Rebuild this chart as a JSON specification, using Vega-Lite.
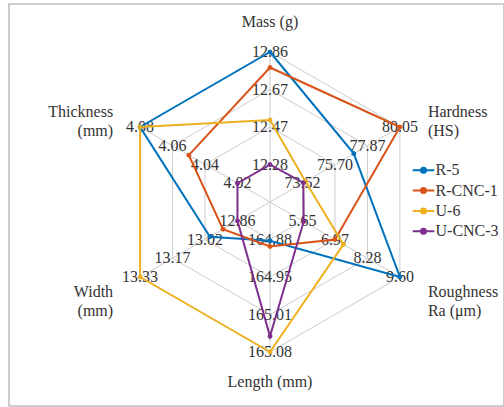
{
  "$schema": "https://vega.github.io/schema/vega-lite/v6.json",
  "width": 495,
  "height": 402,
  "autosize": {"type": "none"},
  "padding": {"left": 9, "top": 4, "right": 0, "bottom": 1},
  "background": "white",
  "config": {
    "view": {"stroke": "#c0c0c0", "strokeWidth": 1.6},
    "font": "Liberation Serif, Times New Roman, DejaVu Serif, serif",
    "text": {"font": "Liberation Serif, Times New Roman, DejaVu Serif, serif", "fontSize": 16, "color": "#333333"},
    "legend": {"labelFont": "Liberation Serif, Times New Roman, DejaVu Serif, serif"}
  },
  "datasets": {
    "axes": [
      {"axis": "Mass", "title": "Mass (g)", "idx": 0, "lo": 12.087, "hi": 12.86},
      {"axis": "Hardness", "title": "Hardness\n(HS)", "idx": 1, "lo": 71.343, "hi": 80.05},
      {"axis": "Roughness", "title": "Roughness\nRa (μm)", "idx": 2, "lo": 4.333, "hi": 9.6},
      {"axis": "Length", "title": "Length (mm)", "idx": 3, "lo": 164.813, "hi": 165.08},
      {"axis": "Width", "title": "Width\n(mm)", "idx": 4, "lo": 12.703, "hi": 13.33},
      {"axis": "Thickness", "title": "Thickness\n(mm)", "idx": 5, "lo": 4.0, "hi": 4.08}
    ],
    "ticks": [
      {"axis": "Mass", "tick": 12.28}, {"axis": "Mass", "tick": 12.47}, {"axis": "Mass", "tick": 12.67}, {"axis": "Mass", "tick": 12.86},
      {"axis": "Hardness", "tick": 73.52}, {"axis": "Hardness", "tick": 75.70}, {"axis": "Hardness", "tick": 77.87}, {"axis": "Hardness", "tick": 80.05},
      {"axis": "Roughness", "tick": 5.65}, {"axis": "Roughness", "tick": 6.97}, {"axis": "Roughness", "tick": 8.28}, {"axis": "Roughness", "tick": 9.60},
      {"axis": "Length", "tick": 164.88}, {"axis": "Length", "tick": 164.95}, {"axis": "Length", "tick": 165.01}, {"axis": "Length", "tick": 165.08},
      {"axis": "Width", "tick": 12.86}, {"axis": "Width", "tick": 13.02}, {"axis": "Width", "tick": 13.17}, {"axis": "Width", "tick": 13.33},
      {"axis": "Thickness", "tick": 4.02}, {"axis": "Thickness", "tick": 4.04}, {"axis": "Thickness", "tick": 4.06}, {"axis": "Thickness", "tick": 4.08}
    ],
    "series": [
      {"series": "R-5", "axis": "Mass", "value": 12.86},
      {"series": "R-5", "axis": "Hardness", "value": 76.96},
      {"series": "R-5", "axis": "Roughness", "value": 9.60},
      {"series": "R-5", "axis": "Length", "value": 164.882},
      {"series": "R-5", "axis": "Width", "value": 12.993},
      {"series": "R-5", "axis": "Thickness", "value": 4.08},
      {"series": "R-CNC-1", "axis": "Mass", "value": 12.78},
      {"series": "R-CNC-1", "axis": "Hardness", "value": 80.05},
      {"series": "R-CNC-1", "axis": "Roughness", "value": 6.97},
      {"series": "R-CNC-1", "axis": "Length", "value": 164.892},
      {"series": "R-CNC-1", "axis": "Width", "value": 12.93},
      {"series": "R-CNC-1", "axis": "Thickness", "value": 4.05},
      {"series": "U-6", "axis": "Mass", "value": 12.51},
      {"series": "U-6", "axis": "Hardness", "value": 73.72},
      {"series": "U-6", "axis": "Roughness", "value": 7.31},
      {"series": "U-6", "axis": "Length", "value": 165.08},
      {"series": "U-6", "axis": "Width", "value": 13.33},
      {"series": "U-6", "axis": "Thickness", "value": 4.08},
      {"series": "U-CNC-3", "axis": "Mass", "value": 12.28},
      {"series": "U-CNC-3", "axis": "Hardness", "value": 73.58},
      {"series": "U-CNC-3", "axis": "Roughness", "value": 5.70},
      {"series": "U-CNC-3", "axis": "Length", "value": 165.052},
      {"series": "U-CNC-3", "axis": "Width", "value": 12.86},
      {"series": "U-CNC-3", "axis": "Thickness", "value": 4.02}
    ]
  },
  "layer": [
    {
      "data": {"name": "axes"},
      "transform": [
        {"calculate": "PI/2 - datum.idx*PI/3", "as": "a"},
        {"calculate": "0", "as": "zx"},
        {"calculate": "0", "as": "zy"},
        {"calculate": "cos(datum.a)", "as": "cx"},
        {"calculate": "sin(datum.a)", "as": "cy"}
      ],
      "mark": {"type": "rule", "color": "#cccccc", "strokeWidth": 1},
      "encoding": {
        "x": {"field": "zx", "type": "quantitative", "scale": {"domain": [-1.74, 1.56], "nice": false, "zero": false}, "axis": null},
        "y": {"field": "zy", "type": "quantitative", "scale": {"domain": [-1.36, 1.32], "nice": false, "zero": false}, "axis": null},
        "x2": {"field": "cx"},
        "y2": {"field": "cy"}
      }
    },
    {
      "data": {"name": "ticks"},
      "transform": [
        {"lookup": "axis", "from": {"data": {"name": "axes"}, "key": "axis", "fields": ["idx", "lo", "hi"]}},
        {"calculate": "round(4*(datum.tick-datum.lo)/(datum.hi-datum.lo))/4", "as": "rr"},
        {"calculate": "PI/2 - datum.idx*PI/3", "as": "a"},
        {"calculate": "datum.rr*cos(datum.a)", "as": "gx"},
        {"calculate": "datum.rr*sin(datum.a)", "as": "gy"},
        {"calculate": "datum.rr*cos(datum.a - PI/3)", "as": "gx2"},
        {"calculate": "datum.rr*sin(datum.a - PI/3)", "as": "gy2"}
      ],
      "mark": {"type": "rule", "color": "#cccccc", "strokeWidth": 1},
      "encoding": {
        "x": {"field": "gx", "type": "quantitative", "scale": {"domain": [-1.74, 1.56], "nice": false, "zero": false}, "axis": null},
        "y": {"field": "gy", "type": "quantitative", "scale": {"domain": [-1.36, 1.32], "nice": false, "zero": false}, "axis": null},
        "x2": {"field": "gx2"},
        "y2": {"field": "gy2"}
      }
    },
    {
      "data": {"name": "ticks"},
      "transform": [
        {"lookup": "axis", "from": {"data": {"name": "axes"}, "key": "axis", "fields": ["idx", "lo", "hi"]}},
        {"calculate": "round(4*(datum.tick-datum.lo)/(datum.hi-datum.lo))/4", "as": "rr"},
        {"calculate": "PI/2 - datum.idx*PI/3", "as": "a"},
        {"calculate": "datum.rr*cos(datum.a)", "as": "gx"},
        {"calculate": "datum.rr*sin(datum.a)", "as": "gy"}
      ],
      "mark": {"type": "text", "align": "center", "baseline": "middle", "font": "Liberation Serif, Times New Roman, DejaVu Serif, serif", "fontSize": 16, "color": "#333333"},
      "encoding": {
        "x": {"field": "gx", "type": "quantitative", "scale": {"domain": [-1.74, 1.56], "nice": false, "zero": false}, "axis": null},
        "y": {"field": "gy", "type": "quantitative", "scale": {"domain": [-1.36, 1.32], "nice": false, "zero": false}, "axis": null},
        "text": {"field": "tick", "type": "quantitative", "format": ".2f"}
      }
    },
    {
      "data": {"name": "axes"},
      "transform": [
        {"calculate": "PI/2 - datum.idx*PI/3", "as": "a"},
        {"filter": "abs(cos(datum.a)) < 0.1"},
        {"calculate": "1.2*cos(datum.a)", "as": "tx"},
        {"calculate": "1.2*sin(datum.a)", "as": "ty"}
      ],
      "mark": {"type": "text", "align": "center", "baseline": "middle", "lineBreak": "\n", "lineHeight": 19, "font": "Liberation Serif, Times New Roman, DejaVu Serif, serif", "fontSize": 16, "color": "#333333"},
      "encoding": {
        "x": {"field": "tx", "type": "quantitative", "scale": {"domain": [-1.74, 1.56], "nice": false, "zero": false}, "axis": null},
        "y": {"field": "ty", "type": "quantitative", "scale": {"domain": [-1.36, 1.32], "nice": false, "zero": false}, "axis": null},
        "text": {"field": "title", "type": "nominal"}
      }
    },
    {
      "data": {"name": "axes"},
      "transform": [
        {"calculate": "PI/2 - datum.idx*PI/3", "as": "a"},
        {"filter": "cos(datum.a) > 0.1"},
        {"calculate": "1.2*cos(datum.a)", "as": "tx"},
        {"calculate": "1.2*sin(datum.a)", "as": "ty"}
      ],
      "mark": {"type": "text", "align": "left", "baseline": "middle", "dx": 2, "lineBreak": "\n", "lineHeight": 19, "font": "Liberation Serif, Times New Roman, DejaVu Serif, serif", "fontSize": 16, "color": "#333333"},
      "encoding": {
        "x": {"field": "tx", "type": "quantitative", "scale": {"domain": [-1.74, 1.56], "nice": false, "zero": false}, "axis": null},
        "y": {"field": "ty", "type": "quantitative", "scale": {"domain": [-1.36, 1.32], "nice": false, "zero": false}, "axis": null},
        "text": {"field": "title", "type": "nominal"}
      }
    },
    {
      "data": {"name": "axes"},
      "transform": [
        {"calculate": "PI/2 - datum.idx*PI/3", "as": "a"},
        {"filter": "cos(datum.a) < -0.1"},
        {"calculate": "1.2*cos(datum.a)", "as": "tx"},
        {"calculate": "1.2*sin(datum.a)", "as": "ty"}
      ],
      "mark": {"type": "text", "align": "right", "baseline": "middle", "dx": -1, "lineBreak": "\n", "lineHeight": 19, "font": "Liberation Serif, Times New Roman, DejaVu Serif, serif", "fontSize": 16, "color": "#333333"},
      "encoding": {
        "x": {"field": "tx", "type": "quantitative", "scale": {"domain": [-1.74, 1.56], "nice": false, "zero": false}, "axis": null},
        "y": {"field": "ty", "type": "quantitative", "scale": {"domain": [-1.36, 1.32], "nice": false, "zero": false}, "axis": null},
        "text": {"field": "title", "type": "nominal"}
      }
    },
    {
      "data": {"name": "series"},
      "transform": [
        {"lookup": "axis", "from": {"data": {"name": "axes"}, "key": "axis", "fields": ["idx", "lo", "hi"]}},
        {"calculate": "PI/2 - datum.idx*PI/3", "as": "a"},
        {"calculate": "(datum.value-datum.lo)/(datum.hi-datum.lo)", "as": "r"},
        {"calculate": "datum.r*cos(datum.a)", "as": "px"},
        {"calculate": "datum.r*sin(datum.a)", "as": "py"}
      ],
      "mark": {"type": "line", "interpolate": "linear-closed", "strokeWidth": 2},
      "encoding": {
        "x": {"field": "px", "type": "quantitative", "scale": {"domain": [-1.74, 1.56], "nice": false, "zero": false}, "axis": null},
        "y": {"field": "py", "type": "quantitative", "scale": {"domain": [-1.36, 1.32], "nice": false, "zero": false}, "axis": null},
        "stroke": {"field": "series", "type": "nominal", "scale": {"domain": ["R-5", "R-CNC-1", "U-6", "U-CNC-3"], "range": ["#0072BD", "#D95319", "#EDB120", "#7E2F8E"]},
          "legend": {"orient": "none", "legendX": 404.5, "legendY": 156.3, "title": null, "symbolType": "M-1.2,0H1.2M-0.28,0A0.28,0.28 0 1,1 0.28,0A0.28,0.28 0 1,1 -0.28,0Z", "symbolSize": 324, "symbolStrokeWidth": 2, "labelFont": "Liberation Serif, Times New Roman, DejaVu Serif, serif", "labelFontSize": 16, "labelColor": "#333333", "labelOffset": 2, "rowPadding": 2.3, "padding": 0}},
        "order": {"field": "idx", "type": "quantitative"}
      }
    },
    {
      "data": {"name": "series"},
      "transform": [
        {"lookup": "axis", "from": {"data": {"name": "axes"}, "key": "axis", "fields": ["idx", "lo", "hi"]}},
        {"calculate": "PI/2 - datum.idx*PI/3", "as": "a"},
        {"calculate": "(datum.value-datum.lo)/(datum.hi-datum.lo)", "as": "r"},
        {"calculate": "datum.r*cos(datum.a)", "as": "px"},
        {"calculate": "datum.r*sin(datum.a)", "as": "py"}
      ],
      "mark": {"type": "point", "filled": true, "size": 16, "strokeWidth": 1, "opacity": 1},
      "encoding": {
        "x": {"field": "px", "type": "quantitative", "scale": {"domain": [-1.74, 1.56], "nice": false, "zero": false}, "axis": null},
        "y": {"field": "py", "type": "quantitative", "scale": {"domain": [-1.36, 1.32], "nice": false, "zero": false}, "axis": null},
        "fill": {"field": "series", "type": "nominal", "scale": {"domain": ["R-5", "R-CNC-1", "U-6", "U-CNC-3"], "range": ["#0072BD", "#D95319", "#EDB120", "#7E2F8E"]},
          "legend": {"orient": "none", "legendX": 404.5, "legendY": 156.3, "title": null, "symbolType": "M-1.2,0H1.2M-0.28,0A0.28,0.28 0 1,1 0.28,0A0.28,0.28 0 1,1 -0.28,0Z", "symbolSize": 324, "symbolStrokeWidth": 2, "labelFont": "Liberation Serif, Times New Roman, DejaVu Serif, serif", "labelFontSize": 16, "labelColor": "#333333", "labelOffset": 2, "rowPadding": 2.3, "padding": 0}},
        "stroke": {"field": "series", "type": "nominal",
          "legend": {"orient": "none", "legendX": 404.5, "legendY": 156.3, "title": null, "symbolType": "M-1.2,0H1.2M-0.28,0A0.28,0.28 0 1,1 0.28,0A0.28,0.28 0 1,1 -0.28,0Z", "symbolSize": 324, "symbolStrokeWidth": 2, "labelFont": "Liberation Serif, Times New Roman, DejaVu Serif, serif", "labelFontSize": 16, "labelColor": "#333333", "labelOffset": 2, "rowPadding": 2.3, "padding": 0}}
      }
    }
  ]
}
